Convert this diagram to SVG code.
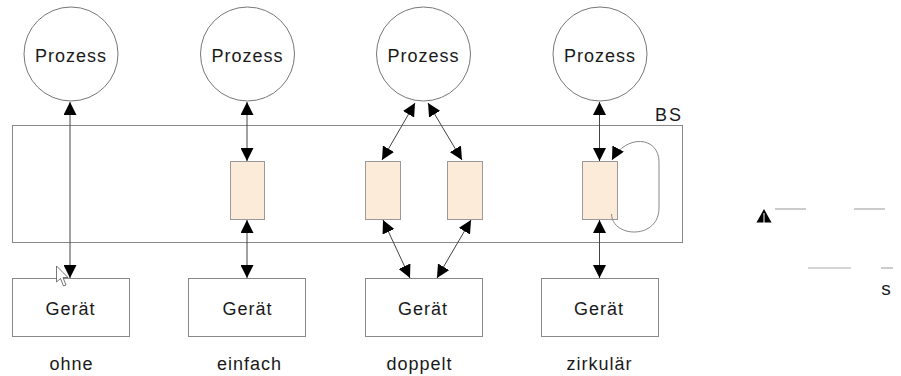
<svg xmlns="http://www.w3.org/2000/svg" width="901" height="376" viewBox="0 0 901 376">
  <style>
    .lbl { font-family: "Liberation Sans", Arial, sans-serif; font-size: 18px; letter-spacing: 1px; fill: #1a1a1a; text-anchor: middle; }
    .proc { fill: #fff; stroke: #777; stroke-width: 1; }
    .dev { fill: #fff; stroke: #888; stroke-width: 1; }
    .buf { fill: #fdebd9; stroke: #999; stroke-width: 1; }
    .os { fill: none; stroke: #888; stroke-width: 1; }
    .link { fill: none; stroke: #444; stroke-width: 1; marker-start: url(#head); marker-end: url(#head); }
    .loop { fill: none; stroke: #888; stroke-width: 1; marker-end: url(#head); }
    .stray { stroke: #aaa; stroke-width: 1.2; }
  </style>
  <defs>
    <marker id="head" markerUnits="userSpaceOnUse" markerWidth="13" markerHeight="13" refX="13" refY="6.5" orient="auto-start-reverse">
      <path d="M0,0 L13,6.5 L0,13 z" fill="#000"/>
    </marker>
  </defs>

  <rect width="901" height="376" fill="#fff"/>

  <!-- operating system frame -->
  <g id="bs">
    <rect class="os" x="12.5" y="125.5" width="670" height="117"/>
    <text class="lbl" x="669" y="121" style="letter-spacing:2px">BS</text>
  </g>

  <!-- processes -->
  <g id="prozess1"><circle class="proc" cx="71" cy="54" r="47"/><text class="lbl" x="71" y="62">Prozess</text></g>
  <g id="prozess2"><circle class="proc" cx="247.5" cy="54" r="47"/><text class="lbl" x="247.5" y="62">Prozess</text></g>
  <g id="prozess3"><circle class="proc" cx="423.5" cy="54" r="47"/><text class="lbl" x="423.5" y="62">Prozess</text></g>
  <g id="prozess4"><circle class="proc" cx="600" cy="54" r="47"/><text class="lbl" x="600" y="62">Prozess</text></g>

  <!-- buffers -->
  <g id="puffer-einfach"><rect class="buf" x="230.5" y="161.5" width="34" height="58"/></g>
  <g id="puffer-doppelt-1"><rect class="buf" x="365.5" y="161.5" width="35" height="58"/></g>
  <g id="puffer-doppelt-2"><rect class="buf" x="447.5" y="161.5" width="35" height="58"/></g>
  <g id="puffer-zirkular"><rect class="buf" x="582.5" y="161.5" width="35" height="58"/></g>

  <!-- devices -->
  <g id="geraet1"><rect class="dev" x="12.5" y="278.5" width="117" height="58"/><text class="lbl" x="70.5" y="315">Gerät</text></g>
  <g id="geraet2"><rect class="dev" x="188.5" y="278.5" width="117" height="58"/><text class="lbl" x="247.5" y="315">Gerät</text></g>
  <g id="geraet3"><rect class="dev" x="365.5" y="278.5" width="117" height="58"/><text class="lbl" x="423" y="315">Gerät</text></g>
  <g id="geraet4"><rect class="dev" x="541.5" y="278.5" width="117" height="58"/><text class="lbl" x="599" y="315">Gerät</text></g>

  <!-- captions -->
  <g id="captions">
    <text class="lbl" x="71.5" y="370">ohne</text>
    <text class="lbl" x="249.5" y="370">einfach</text>
    <text class="lbl" x="419.5" y="370">doppelt</text>
    <text class="lbl" x="599.5" y="370">zirkulär</text>
  </g>

  <!-- connectors -->
  <g id="connectors">
    <line class="link" x1="70" y1="102" x2="70" y2="278"/>
    <line class="link" x1="247" y1="102" x2="247" y2="161"/>
    <line class="link" x1="247" y1="220" x2="247" y2="278"/>
    <line class="link" x1="415" y1="103" x2="382" y2="160"/>
    <line class="link" x1="428" y1="103" x2="462" y2="160"/>
    <line class="link" x1="383" y1="220" x2="410" y2="278"/>
    <line class="link" x1="471" y1="220" x2="437" y2="278"/>
    <line class="link" x1="599.5" y1="102" x2="599.5" y2="161"/>
    <line class="link" x1="599.5" y1="220" x2="599.5" y2="278"/>
    <path class="loop" d="M611.5,214 C612,238 659,240 659,208 L659,162 C659,136 626,134 612,160"/>
  </g>

  <!-- pointer -->
  <g id="cursor">
    <path d="M56.5,266 L56.5,282 L60.5,278.5 L63.5,286 L66,285 L63,277.5 L68,277.5 Z" fill="#fff" stroke="#555" stroke-width="0.8"/>
  </g>

  <!-- loose fragments at the right edge -->
  <g id="fragments">
    <path d="M764,209 L771.5,222.5 L756.5,222.5 Z" fill="#000"/>
    <line x1="764" y1="213" x2="764" y2="223" stroke="#fff" stroke-width="1"/>
    <line class="stray" x1="775" y1="209" x2="806" y2="209"/>
    <line class="stray" x1="854" y1="209" x2="885" y2="209"/>
    <line class="stray" x1="808" y1="268" x2="851" y2="268"/>
    <line class="stray" x1="881" y1="268" x2="893" y2="268"/>
    <text class="lbl" x="886" y="295" style="font-size:19px;letter-spacing:0">s</text>
  </g>
</svg>
